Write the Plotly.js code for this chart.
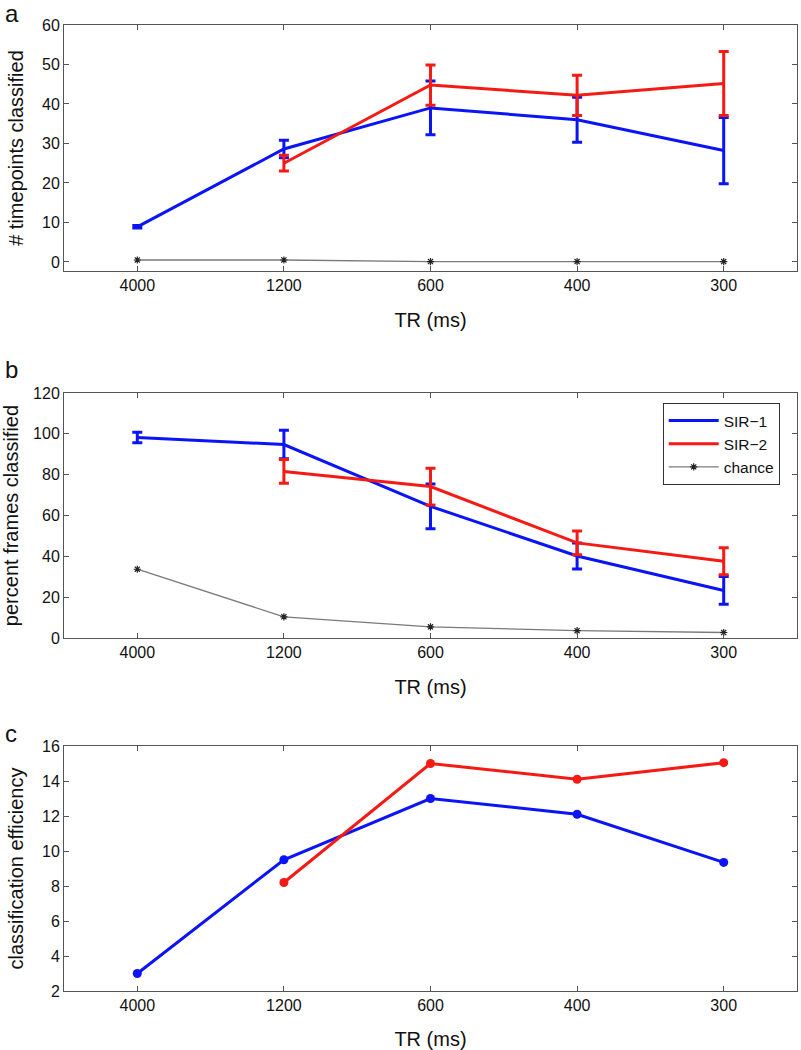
<!DOCTYPE html>
<html>
<head>
<meta charset="utf-8">
<script src="https://cdn.plot.ly/plotly-3.0.1.min.js"></script>
<style>html,body{margin:0;padding:0;background:#fff;}#chart{width:801px;height:1050px;}</style>
</head>
<body>
<div id="chart"></div>
<script>
// ---- data ----
const trLabels = ["4000", "1200", "600", "400", "300"];

// panel a: # timepoints classified
const a_sir1 = [8.9, 28.6, 39.0, 36.0, 28.2];
const a_sir1_err = [0.3, 2.2, 6.8, 5.7, 8.4];
const a_sir2 = [null, 25.0, 44.8, 42.2, 45.2];
const a_sir2_err = [null, 2.0, 5.1, 5.1, 8.1];
const a_chance = [0.5, 0.5, 0.1, 0.1, 0.1];

// panel b: percent frames classified
const b_sir1 = [98.2, 94.8, 64.5, 40.2, 23.3];
const b_sir1_err = [2.6, 7.0, 11.0, 6.4, 6.8];
const b_sir2 = [null, 81.6, 74.2, 46.6, 37.6];
const b_sir2_err = [null, 5.8, 9.0, 5.8, 6.6];
const b_chance = [33.7, 10.4, 5.5, 3.6, 2.7];

// panel c: classification efficiency
const c_sir1 = [3.0, 9.5, 13.0, 12.1, 9.35];
const c_sir2 = [null, 8.2, 15.0, 14.1, 15.05];

const BLUE = "#0a14f5", RED = "#f51a14", GRAY = "#7a7a7a";

function errTrace(y, err, color, name, xa, ya, show) {
  return {
    x: trLabels, y: y, type: "scatter", mode: "lines", name: name,
    xaxis: xa, yaxis: ya, showlegend: show, legendgroup: name,
    line: {color: color, width: 3},
    error_y: {type: "data", array: err, visible: true, color: color, thickness: 3, width: 5}
  };
}
function chanceTrace(y, xa, ya, show) {
  return {
    x: trLabels, y: y, type: "scatter", mode: "lines+markers", name: "chance",
    xaxis: xa, yaxis: ya, showlegend: show, legendgroup: "chance",
    line: {color: GRAY, width: 1.3},
    marker: {symbol: "asterisk-open", size: 6, color: "#222", line: {color: "#222", width: 1.2}}
  };
}
function dotTrace(y, color, name, xa, ya) {
  return {
    x: trLabels, y: y, type: "scatter", mode: "lines+markers", name: name,
    xaxis: xa, yaxis: ya, showlegend: false,
    line: {color: color, width: 3},
    marker: {color: color, size: 9}
  };
}

const traces = [
  errTrace(a_sir1, a_sir1_err, BLUE, "SIR−1", "x", "y", false),
  errTrace(a_sir2, a_sir2_err, RED, "SIR−2", "x", "y", false),
  chanceTrace(a_chance, "x", "y", false),
  errTrace(b_sir1, b_sir1_err, BLUE, "SIR−1", "x2", "y2", true),
  errTrace(b_sir2, b_sir2_err, RED, "SIR−2", "x2", "y2", true),
  chanceTrace(b_chance, "x2", "y2", true),
  dotTrace(c_sir1, BLUE, "SIR−1", "x3", "y3"),
  dotTrace(c_sir2, RED, "SIR−2", "x3", "y3")
];

const FONT = "Liberation Sans, Arial, Helvetica, sans-serif";
function xax(anchor) {
  return {
    type: "category", range: [-0.5, 4.5], anchor: anchor,
    showline: true, mirror: "ticks", linecolor: "#555", linewidth: 1,
    ticks: "inside", ticklen: 5, tickcolor: "#555",
    showgrid: false, zeroline: false,
    tickfont: {family: FONT, size: 16, color: "#111"},
    title: {text: "TR (ms)", standoff: 19, font: {family: FONT, size: 20, color: "#111"}}
  };
}
function yax(anchor, dom, range, dtick, title) {
  return {
    domain: dom, anchor: anchor, range: range, dtick: dtick, tick0: 0,
    showline: true, mirror: "ticks", linecolor: "#555", linewidth: 1,
    ticks: "inside", ticklen: 5, tickcolor: "#555",
    showgrid: false, zeroline: false,
    tickfont: {family: FONT, size: 16, color: "#111"},
    title: {text: title, standoff: 12, font: {family: FONT, size: 20, color: "#111"}}
  };
}

const layout = {
  width: 801, height: 1050,
  margin: {l: 64, r: 4, t: 25, b: 59},
  paper_bgcolor: "#fff", plot_bgcolor: "#fff",
  font: {family: FONT, color: "#111"},
  xaxis: Object.assign(xax("y"), {domain: [0, 1]}),
  xaxis2: Object.assign(xax("y2"), {domain: [0, 1]}),
  xaxis3: Object.assign(xax("y3"), {domain: [0, 1]}),
  yaxis: yax("x", [0.7453, 1], [-2.3, 60], 10, "# timepoints classified"),
  yaxis2: yax("x2", [0.3654, 0.6190], [0, 120], 20, "percent frames classified"),
  yaxis3: yax("x3", [0, 0.2536], [2, 16], 2, "classification efficiency"),
  showlegend: true,
  legend: {
    x: 0.8168, xref: "paper", xanchor: "left",
    y: 0.6087, yref: "paper", yanchor: "top",
    bgcolor: "#fff", bordercolor: "#333", borderwidth: 1,
    font: {family: FONT, size: 15.5, color: "#111"},
    itemwidth: 50,
    tracegroupgap: 0
  },
  annotations: [
    {text: "a", xref: "paper", yref: "paper", x: -0.083, y: 1.0119, xanchor: "left", yanchor: "middle", showarrow: false, font: {family: FONT, size: 24, color: "#111"}},
    {text: "b", xref: "paper", yref: "paper", x: -0.083, y: 0.6433, xanchor: "left", yanchor: "middle", showarrow: false, font: {family: FONT, size: 24, color: "#111"}},
    {text: "c", xref: "paper", yref: "paper", x: -0.083, y: 0.2661, xanchor: "left", yanchor: "middle", showarrow: false, font: {family: FONT, size: 24, color: "#111"}}
  ]
};

Plotly.newPlot("chart", traces, layout, {displayModeBar: false, staticPlot: true});
</script>
</body>
</html>
